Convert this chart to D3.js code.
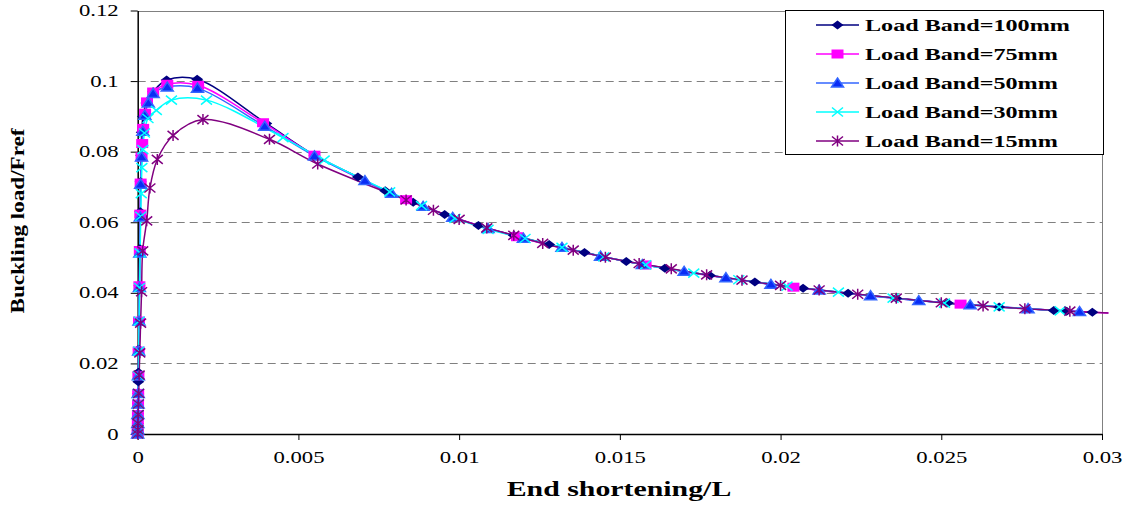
<!DOCTYPE html>
<html>
<head>
<meta charset="utf-8">
<script src="https://cdn.jsdelivr.net/npm/d3@7"></script>
<style>
  body { margin: 0; background: #fff; }
  svg { display: block; font-family: 'Liberation Serif', 'Times New Roman', serif; }
</style>
</head>
<body>
<svg id="chart"></svg>
<script>
// each series is a list of [end shortening / L, buckling load / Fref]
let band100 = [[0, 0], [0.000002, 0.0011], [0.000004, 0.003], [0.000007, 0.0058], [0.000011, 0.0087],
  [0.000015, 0.0115], [0.000019, 0.0148], [0.000022, 0.0175], [0.00003, 0.024], [0.00004, 0.032],
  [0.000052, 0.042], [0.000065, 0.0525], [0.000078, 0.063], [0.00009, 0.0715], [0.000105, 0.079],
  [0.000125, 0.0855], [0.000165, 0.09], [0.00027, 0.0938], [0.00048, 0.097], [0.0009, 0.1003],
  [0.00185, 0.1005], [0.004, 0.088], [0.0055, 0.079], [0.00685, 0.0728], [0.0077, 0.0689],
  [0.00857, 0.0657], [0.00955, 0.0622], [0.0106, 0.0591], [0.0117, 0.0563], [0.0128, 0.0537],
  [0.0139, 0.0514], [0.0152, 0.0489], [0.0164, 0.047], [0.0178, 0.0449], [0.0192, 0.0431],
  [0.0207, 0.0413], [0.0221, 0.0399], [0.0236, 0.0385], [0.0252, 0.0371], [0.0268, 0.036],
  [0.0285, 0.035], [0.0289, 0.0348], [0.0297, 0.0345]]

let band75 = [[0, 0], [0.000002, 0.0012], [0.000004, 0.003], [0.000007, 0.0055], [0.000011, 0.0085],
  [0.000015, 0.0115], [0.000022, 0.0165], [0.00003, 0.0235], [0.00004, 0.032], [0.000053, 0.042],
  [0.000066, 0.052], [0.00008, 0.0623], [0.000092, 0.0711], [0.00012, 0.0785], [0.00014, 0.0823],
  [0.00017, 0.0866], [0.00023, 0.0909], [0.00029, 0.0941], [0.00048, 0.0969], [0.00092, 0.0991],
  [0.00188, 0.0988], [0.0039, 0.0882], [0.0055, 0.079], [0.00835, 0.0664], [0.0118, 0.0559],
  [0.0158, 0.0479], [0.0204, 0.0416], [0.0256, 0.0368], [0.0302, 0.0343]]

let band50 = [[0, 0], [0.000002, 0.0012], [0.000004, 0.003], [0.000007, 0.0055], [0.000011, 0.0085],
  [0.000015, 0.0115], [0.000022, 0.0165], [0.00003, 0.0235], [0.00004, 0.032], [0.000053, 0.0415],
  [0.000066, 0.0513], [0.00008, 0.0615], [0.000093, 0.0708], [0.00012, 0.0785], [0.00016, 0.0858],
  [0.00022, 0.0903], [0.00033, 0.0938], [0.00048, 0.0965], [0.00092, 0.0983], [0.00186, 0.098],
  [0.00395, 0.0872], [0.0055, 0.0788], [0.00707, 0.0718], [0.0079, 0.0682], [0.00888, 0.0645],
  [0.0098, 0.0614], [0.0109, 0.0582], [0.012, 0.0555], [0.0132, 0.0529], [0.0144, 0.0504],
  [0.0157, 0.048], [0.017, 0.0461], [0.0183, 0.0443], [0.0197, 0.0424], [0.0212, 0.0408],
  [0.0228, 0.0392], [0.0243, 0.0378], [0.0259, 0.0366], [0.0277, 0.0355], [0.0293, 0.0347]]

let band30 = [[0, 0], [0.000002, 0.0012], [0.000005, 0.003], [0.000008, 0.0055], [0.000012, 0.0085],
  [0.000016, 0.0115], [0.000023, 0.0165], [0.000033, 0.0235], [0.000045, 0.032], [0.000058, 0.0415],
  [0.000075, 0.0513], [0.000095, 0.0617], [0.00011, 0.0681], [0.00013, 0.0755], [0.00016, 0.0806],
  [0.00021, 0.0853], [0.00032, 0.0894], [0.00058, 0.0917], [0.00105, 0.0946], [0.00214, 0.0946],
  [0.00452, 0.084], [0.0058, 0.0776], [0.00784, 0.0686], [0.00883, 0.0647], [0.00987, 0.0611],
  [0.0109, 0.058], [0.01205, 0.0554], [0.0132, 0.0529], [0.0145, 0.0502], [0.0158, 0.0479],
  [0.0173, 0.0456], [0.0187, 0.0437], [0.0202, 0.0419], [0.0218, 0.0402], [0.0235, 0.0385],
  [0.0251, 0.0371], [0.0268, 0.036], [0.0287, 0.0349]]

let band15 = [[0, 0], [0.000003, 0.0012], [0.000008, 0.003], [0.000014, 0.0055], [0.000022, 0.0085],
  [0.00003, 0.0115], [0.000045, 0.0167], [0.000065, 0.023], [0.00009, 0.0314], [0.00012, 0.0403],
  [0.000155, 0.0519], [0.00028, 0.0604], [0.00038, 0.0697], [0.00061, 0.0778], [0.0011, 0.0846],
  [0.00203, 0.0891], [0.0041, 0.0835], [0.0056, 0.0765], [0.00835, 0.0663], [0.0092, 0.0634],
  [0.01, 0.0608], [0.01086, 0.0584], [0.0117, 0.0563], [0.0126, 0.054], [0.01355, 0.0521],
  [0.01455, 0.0501], [0.0156, 0.0483], [0.0166, 0.0468], [0.0177, 0.0451], [0.0188, 0.0436],
  [0.02, 0.0421], [0.0212, 0.0408], [0.0224, 0.0396], [0.0236, 0.0385], [0.025, 0.0372],
  [0.0263, 0.0363], [0.0276, 0.0355], [0.029, 0.0348], [0.0302, 0.0343]]

let seriesNames = ['Load Band=100mm', 'Load Band=75mm', 'Load Band=50mm', 'Load Band=30mm', 'Load Band=15mm']
let xTicks = [0, 0.005, 0.01, 0.015, 0.02, 0.025, 0.03]
let yTicks = [0, 0.02, 0.04, 0.06, 0.08, 0.1, 0.12]

// the source picture is stretched sideways, so text gets widened by this much
let widenBy = 1.42

let outerWidth = 1126
let outerHeight = 506
let plot = { left: 137.7, right: 1102, top: 10.5, bottom: 434 }

// marker shapes are a bit wider than tall, like the stretched original
let styles = [
  { data: band100, line: '#000080', fill: '#000080', stroke: 'none', d: 'M0,-4.5L6,0L0,4.5L-6,0Z' },
  { data: band75, line: '#ff00ff', fill: '#ff00ff', stroke: 'none', d: 'M-6,-4.5H6V4.5H-6Z' },
  { data: band50, line: '#3366ff', fill: '#0a2cf5', stroke: '#3366ff', d: 'M0,-5L6,4L-6,4Z' },
  { data: band30, line: '#00ffff', fill: 'none', stroke: '#00ffff', d: 'M-5.5,-4.5L5.5,4.5M-5.5,4.5L5.5,-4.5' },
  { data: band15, line: '#800080', fill: 'none', stroke: '#800080', d: 'M-5.5,-4.5L5.5,4.5M-5.5,4.5L5.5,-4.5M0,-5.5V5.5' },
]

let svg = d3.select('svg#chart').attr('width', outerWidth).attr('height', outerHeight)

let xScale = d3.scaleLinear().domain([0, 0.03]).range([plot.left, plot.right])
let yScale = d3.scaleLinear().domain([0, 0.12]).range([plot.bottom, plot.top])

// measure each text and stretch it sideways
function widen(sel, k) {
  sel.each(function () {
    let len = this.getComputedTextLength()
    d3.select(this).attr('textLength', len * k).attr('lengthAdjust', 'spacingAndGlyphs')
  })
}

// dashed grid lines, plus a plain grey frame on top and right
svg.append('g')
  .selectAll('line')
  .data(yTicks.filter(d => d > 0 && d < 0.12))
  .join('line')
  .attr('x1', xScale(0))
  .attr('x2', xScale(0.03))
  .attr('y1', d => Math.round(yScale(d)) + 0.5)
  .attr('y2', d => Math.round(yScale(d)) + 0.5)
  .attr('stroke', '#808080')
  .attr('stroke-dasharray', '8,5')

svg.append('path')
  .attr('d', `M${xScale(0)},${Math.round(yScale(0.12)) + 0.5}H${Math.round(xScale(0.03)) + 0.5}V${yScale(0)}`)
  .attr('fill', 'none')
  .attr('stroke', '#808080')

// axes
let xAxis = d3.axisBottom(xScale).tickValues(xTicks).tickFormat(d => String(d))
  .tickSize(6).tickSizeOuter(0).tickPadding(12)
let yAxis = d3.axisLeft(yScale).tickValues(yTicks).tickFormat(d => String(d))
  .tickSize(7).tickSizeOuter(0).tickPadding(12)

let gx = svg.append('g').attr('transform', `translate(0,${plot.bottom})`).call(xAxis)
let gy = svg.append('g').attr('transform', `translate(${plot.left},0)`).call(yAxis)

for (let g of [gx, gy]) {
  g.attr('font-family', null).attr('font-size', null)
  g.select('.domain').attr('stroke', '#000').attr('stroke-width', 1.5)
  g.selectAll('.tick line').attr('stroke', '#000')
  g.selectAll('.tick text').style('font-size', '16px').attr('fill', '#000').call(widen, widenBy)
}

// curves first, then the markers on top
let line = d3.line()
  .x(d => xScale(d[0]))
  .y(d => yScale(d[1]))
  .curve(d3.curveCatmullRom.alpha(0.5))

svg.append('g')
  .selectAll('path')
  .data(styles)
  .join('path')
  .attr('d', s => line(s.data))
  .attr('fill', 'none')
  .attr('stroke', s => s.line)
  .attr('stroke-width', 1.5)

for (let s of styles) {
  svg.append('g')
    .selectAll('path')
    .data(s.data.filter(d => d[0] <= 0.03))
    .join('path')
    .attr('d', s.d)
    .attr('transform', d => `translate(${xScale(d[0])},${yScale(d[1])})`)
    .attr('fill', s.fill)
    .attr('stroke', s.stroke)
    .attr('stroke-width', 1.5)
}

// axis titles
svg.append('text')
  .attr('x', 619)
  .attr('y', 496)
  .attr('text-anchor', 'middle')
  .style('font-size', '21px')
  .style('font-weight', 'bold')
  .text('End shortening/L')
  .call(widen, widenBy)

svg.append('text')
  .attr('transform', 'translate(24,221) rotate(-90)')
  .attr('text-anchor', 'middle')
  .style('font-size', '19px')
  .style('font-weight', 'bold')
  .attr('textLength', 185)
  .attr('lengthAdjust', 'spacingAndGlyphs')
  .text('Buckling load/Fref')

// legend
let legend = svg.append('g')
legend.append('rect')
  .attr('x', 785.5)
  .attr('y', 10.5)
  .attr('width', 318)
  .attr('height', 144)
  .attr('fill', '#fff')
  .attr('stroke', '#000')

let rows = legend.selectAll('g.row')
  .data(styles)
  .join('g')
  .attr('class', 'row')
  .attr('transform', (s, i) => `translate(0,${25 + i * 29})`)

rows.append('line')
  .attr('x1', 816)
  .attr('x2', 859)
  .attr('stroke', s => s.line)
  .attr('stroke-width', 1.5)

rows.append('path')
  .attr('d', s => s.d)
  .attr('transform', 'translate(837.5,0)')
  .attr('fill', s => s.fill)
  .attr('stroke', s => s.stroke)
  .attr('stroke-width', 1.5)

rows.append('text')
  .attr('x', 865)
  .attr('y', 5.5)
  .style('font-size', '17px')
  .style('font-weight', 'bold')
  .text((s, i) => seriesNames[i])
  .call(widen, widenBy)
</script>
</body>
</html>
